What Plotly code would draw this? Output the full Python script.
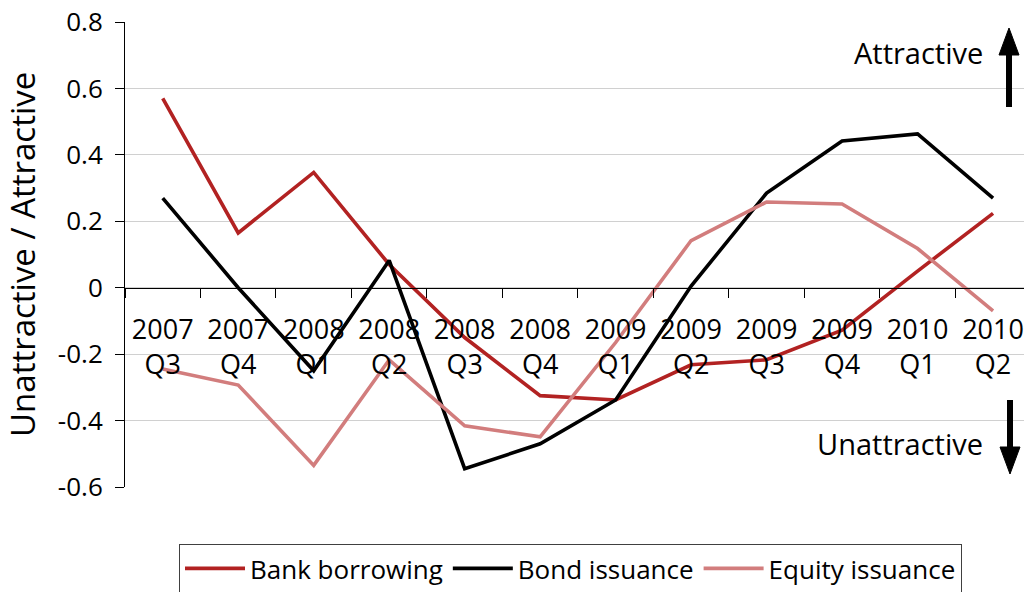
import plotly.graph_objects as go

categories = ["2007<br>Q3", "2007<br>Q4", "2008<br>Q1", "2008<br>Q2", "2008<br>Q3", "2008<br>Q4",
              "2009<br>Q1", "2009<br>Q2", "2009<br>Q3", "2009<br>Q4", "2010<br>Q1", "2010<br>Q2"]
bank_borrowing = [0.57, 0.165, 0.347, 0.07, -0.15, -0.325, -0.338, -0.232, -0.217, -0.128, 0.05, 0.224]
bond_issuance = [0.27, 0.0, -0.25, 0.082, -0.545, -0.47, -0.338, 0.005, 0.285, 0.442, 0.463, 0.27]
equity_issuance = [-0.245, -0.293, -0.535, -0.217, -0.416, -0.449, -0.165, 0.142, 0.258, 0.252, 0.118, -0.07]
y_tickvals = [-0.6, -0.4, -0.2, 0, 0.2, 0.4, 0.6, 0.8]
y_ticktext = ["-0.6", "-0.4", "-0.2", "0", "0.2", "0.4", "0.6", "0.8"]

FONT = "Open Sans"
W, H = 1024, 592
ML, MR, MT, MB = 125, 0, 22, 105
pw, ph = W - ML - MR, H - MT - MB

def px_x(x):
    return (x - ML) / pw

def px_y(y):
    return (H - MB - y) / ph

fig = go.Figure()
series = [("Bank borrowing", bank_borrowing, "#B22222"),
          ("Bond issuance", bond_issuance, "#000000"),
          ("Equity issuance", equity_issuance, "#D27D7D")]
for name, vals, col in series:
    fig.add_trace(go.Scatter(x=categories, y=vals, mode="lines", name=name,
                             line=dict(color=col, width=3.6)))

fig.update_layout(
    width=W, height=H,
    margin=dict(l=ML, r=MR, t=MT, b=MB, autoexpand=False),
    plot_bgcolor="white", paper_bgcolor="white",
    font=dict(family=FONT, size=26, color="#000000"),
    showlegend=True,
    legend=dict(orientation="h", x=px_x(179), y=px_y(544), xanchor="left", yanchor="top",
                bordercolor="#404040", borderwidth=1, font=dict(size=26),
                traceorder="normal", itemwidth=60),
    xaxis=dict(type="category", range=[-0.5, 11.41], anchor="free", position=0.6 / 1.4,
               showline=True, linecolor="black", linewidth=1,
               ticks="outside", ticklen=9, tickcolor="black", tickson="boundaries",
               showgrid=False, zeroline=False, tickfont=dict(size=27), automargin=False,
               ticklabelstandoff=18),
    yaxis=dict(range=[-0.6, 0.8], tickvals=y_tickvals, ticktext=y_ticktext,
               showline=True, linecolor="black", linewidth=1,
               ticks="outside", ticklen=9, tickcolor="black",
               showgrid=True, gridcolor="#D0D0D0", gridwidth=1, zeroline=False,
               tickfont=dict(size=26), automargin=False, ticklabelstandoff=7),
)

fig.add_annotation(text="Unattractive / Attractive", xref="paper", yref="paper",
                   x=px_x(22), y=px_y(255), textangle=-90, showarrow=False,
                   font=dict(size=33), xanchor="center", yanchor="middle")

fig.add_annotation(text="Attractive", xref="paper", yref="paper", x=px_x(985), y=px_y(53),
                   xanchor="right", yanchor="middle", showarrow=False, font=dict(size=29))
fig.add_annotation(text="Unattractive", xref="paper", yref="paper", x=px_x(985), y=px_y(443),
                   xanchor="right", yanchor="middle", showarrow=False, font=dict(size=29))

# arrows drawn as shapes (paper coords)
def arrow(xc, tip, tail, up):
    hl, hw = 27, 10
    base = tip + hl if up else tip - hl
    fig.add_shape(type="line", xref="paper", yref="paper",
                  x0=px_x(xc), x1=px_x(xc), y0=px_y(tail), y1=px_y(base + (-3 if up else 3)),
                  line=dict(color="black", width=6))
    fig.add_shape(type="path", xref="paper", yref="paper",
                  path=f"M {px_x(xc)},{px_y(tip)} L {px_x(xc - hw)},{px_y(base)} "
                       f"L {px_x(xc + hw)},{px_y(base)} Z",
                  fillcolor="black", line=dict(color="black", width=1))

arrow(1009, 28, 107, True)
arrow(1010, 474, 400, False)

fig.write_html("out.html", config={"displayModeBar": False},
               post_script="document.body.style.margin='0';document.body.style.overflow='hidden';")
